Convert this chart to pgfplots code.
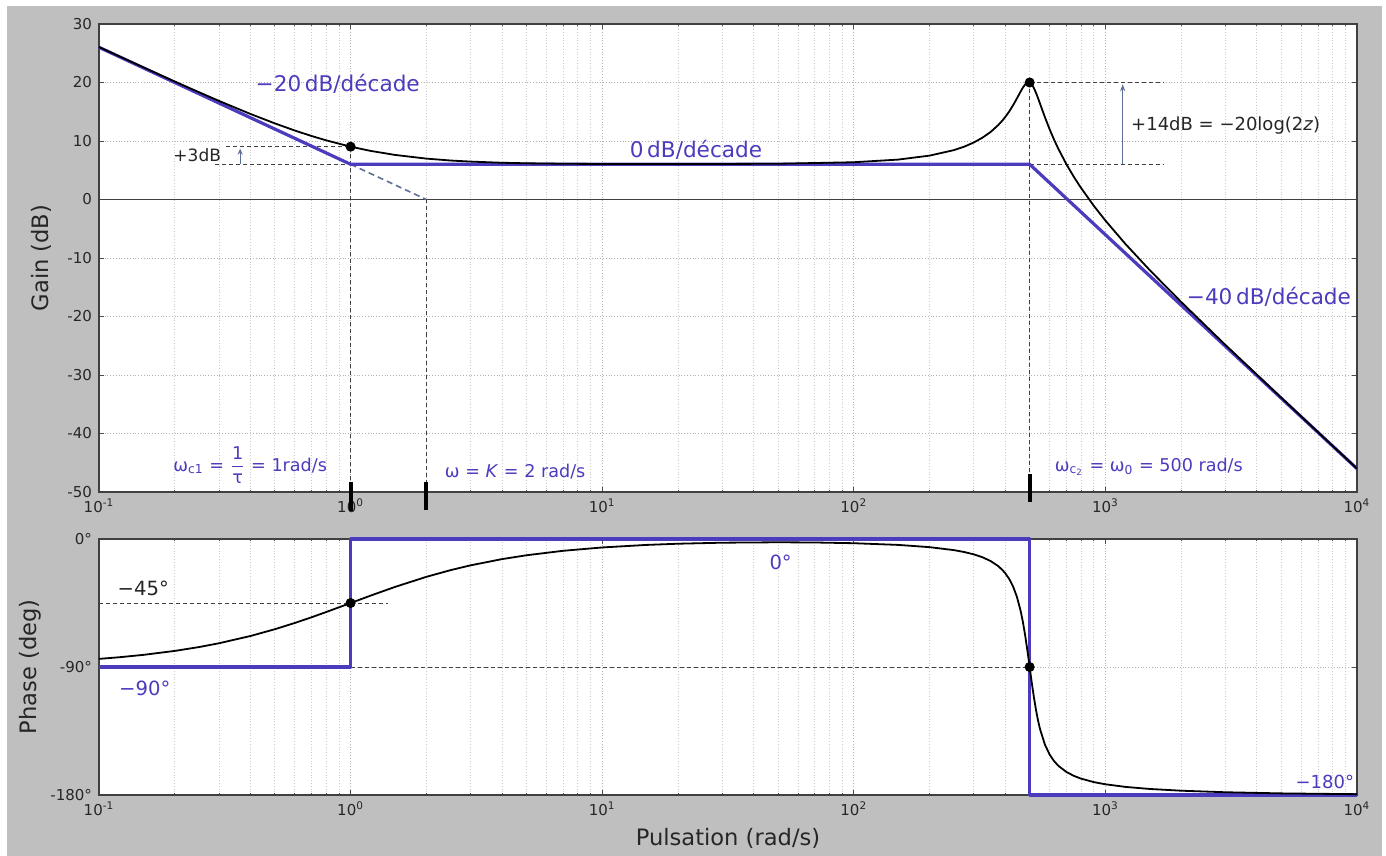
\documentclass[border=0pt]{standalone}
\usepackage{fontspec}
\setmainfont{DejaVu Sans}
\usepackage{pgfplots}
\pgfplotsset{compat=1.18}
\usetikzlibrary{arrows.meta}
\definecolor{bgray}{RGB}{191,191,191}
\definecolor{asym}{RGB}{75,60,190}
\definecolor{helper}{RGB}{95,110,150}
\begin{document}
\begin{tikzpicture}
\fill[white] (0pt,0pt) rectangle (693pt,-428pt);
\useasboundingbox (0pt,0pt) rectangle (693pt,-428pt);
\fill[bgray] (3.5pt,-3pt) rectangle (691pt,-428pt);
% ---------------- Gain ----------------
\begin{axis}[at={(49.5pt,-12pt)}, anchor=north west,
  scale only axis, width=629pt, height=234pt,
  xmode=log, xmin=0.1, xmax=10000,
  xtick={0.1,1,10,100,1000,10000},
  xticklabels={10\textsuperscript{-1},10\textsuperscript{0},10\textsuperscript{1},10\textsuperscript{2},10\textsuperscript{3},10\textsuperscript{4}},
  minor xtick={0.2,0.3,0.4,0.5,0.6,0.7,0.8,0.9,2,3,4,5,6,7,8,9,20,30,40,50,60,70,80,90,200,300,400,500,600,700,800,900,2000,3000,4000,5000,6000,7000,8000,9000},
  ymin=-50, ymax=30, ytick={-50,-40,-30,-20,-10,0,10,20,30},
  yticklabels={-50,-40,-30,-20,-10,0,10,20,30},
  grid=both,
  major grid style={densely dotted, black!30, line width=0.4pt},
  minor grid style={densely dotted, black!20, line width=0.4pt},
  tick align=inside, major tick length=2.5pt, minor tick length=1.2pt,
  tick style={black!70, line width=0.4pt},
  axis line style={black!75, line width=0.6pt},
  xticklabel style={font=\fontsize{7.5}{8}\selectfont, text=black!85},
  yticklabel style={font=\fontsize{7.5}{8}\selectfont, text=black!85},
  axis background/.style={fill=white},
  clip=false]
\addplot[black!75, line width=0.6pt] coordinates {(0.1,0)(10000,0)};
\addplot[black!75, line width=0.4pt, dash pattern=on 2pt off 1.5pt] coordinates {(1,9.03)(1,-50)};
\addplot[black!75, line width=0.4pt, dash pattern=on 2pt off 1.5pt] coordinates {(2,0)(2,-50)};
\addplot[black!75, line width=0.4pt, dash pattern=on 2pt off 1.5pt] coordinates {(500,20)(500,-50)};
\addplot[black!75, line width=0.4pt, dash pattern=on 2pt off 1.5pt] coordinates {(0.32,9.03)(1,9.03)};
\addplot[black!75, line width=0.4pt, dash pattern=on 2pt off 1.5pt] coordinates {(0.29,6.02)(1,6.02)};
\addplot[black!75, line width=0.4pt, dash pattern=on 2pt off 1.5pt] coordinates {(500,20)(1700,20)};
\addplot[black!75, line width=0.4pt, dash pattern=on 2pt off 1.5pt] coordinates {(500,6.02)(1700,6.02)};
\addplot[helper, line width=0.8pt, dash pattern=on 3pt off 2pt] coordinates {(1,6.02)(2,0)};
\addplot[helper, line width=0.5pt, -{Stealth[length=3pt,width=2.5pt]}] coordinates {(0.364,6.02)(0.364,8.7)};
\addplot[helper, line width=0.5pt, -{Stealth[length=3.5pt,width=2.5pt]}] coordinates {(1172,6.02)(1172,19.7)};
\addplot[asym, line width=1.6pt, line join=round] coordinates {(0.1,26.02)(1,6.02)(500,6.02)(10000,-46.02)};
\addplot[black, line width=0.9pt, line join=round] coordinates {
(0.1,26.06)(0.12,24.50)(0.15,22.60)(0.2,20.17)(0.25,18.33)(0.3,16.85)(0.4,14.62)(0.5,13.01)(0.6,11.79)(0.7,10.85)(0.8,10.11)(1,9.03)(1.2,8.31)(1.5,7.62)(2,6.99)(2.5,6.66)(3,6.48)(4,6.28)(5,6.19)(7,6.11)(10,6.07)(20,6.05)(50,6.11)(100,6.37)(150,6.82)(200,7.50)(250,8.44)(275,9.04)(300,9.75)(325,10.58)(350,11.55)(375,12.72)(390,13.52)(400,14.11)(415,15.07)(430,16.14)(445,17.28)(460,18.43)(470,19.13)(480,19.69)(490,20.00)(495,20.04)(500,20.00)(505,19.87)(510,19.66)(520,19.04)(530,18.22)(540,17.31)(550,16.36)(575,14.06)(600,12.02)(625,10.24)(650,8.67)(700,6.02)(750,3.84)(800,1.98)(900,-1.10)(1000,-3.60)(1200,-7.58)(1500,-12.07)(2000,-17.51)(3000,-24.87)(5000,-33.89)(7000,-39.78)(10000,-46.00)};
\addplot[only marks, mark=*, mark size=2.3pt, black] coordinates {(1,9.03)(500,20)};
\addplot[black, line width=2pt] coordinates {(1,-48.3)(1,-53.3)};
\addplot[black, line width=2pt] coordinates {(2,-48.3)(2,-53.0)};
\addplot[black, line width=2pt] coordinates {(500,-46.9)(500,-51.7)};
\node[asym, font=\fontsize{10.8}{12}\selectfont] at (axis cs:0.889,19.7) {−20\,dB/décade};
\node[asym, font=\fontsize{10.8}{12}\selectfont] at (axis cs:23.6,8.5) {0\,dB/décade};
\node[asym, font=\fontsize{10.8}{12}\selectfont] at (axis cs:4467,-16.7) {−40\,dB/décade};
\node[black!85, font=\fontsize{9}{10}\selectfont, anchor=west, inner sep=0pt] at (axis cs:1262,12.7) {+14dB = −20log(2\textit{z})};
\node[black!85, font=\fontsize{8.5}{10}\selectfont, anchor=west, inner sep=0pt] at (axis cs:0.197,7.6) {+3dB};
\node[asym, font=\fontsize{8.8}{10}\selectfont] at (axis cs:0.399,-45.4) {ω\textsubscript{c1} = $\displaystyle\frac{\mbox{1}}{\mbox{τ}}$ = 1rad/s};
\node[asym, font=\fontsize{8.8}{10}\selectfont] at (axis cs:4.51,-46.6) {ω = \textit{K} = 2 rad/s};
\node[asym, font=\fontsize{8.8}{10}\selectfont] at (axis cs:1489,-45.7) {ω\textsubscript{c\textsubscript{2}} = ω\textsubscript{0} = 500 rad/s};
\end{axis}
% ---------------- Phase ----------------
\begin{axis}[at={(49.5pt,-269.5pt)}, anchor=north west,
  scale only axis, width=629pt, height=128pt,
  xmode=log, xmin=0.1, xmax=10000,
  xtick={0.1,1,10,100,1000,10000},
  xticklabels={10\textsuperscript{-1},10\textsuperscript{0},10\textsuperscript{1},10\textsuperscript{2},10\textsuperscript{3},10\textsuperscript{4}},
  minor xtick={0.2,0.3,0.4,0.5,0.6,0.7,0.8,0.9,2,3,4,5,6,7,8,9,20,30,40,50,60,70,80,90,200,300,400,500,600,700,800,900,2000,3000,4000,5000,6000,7000,8000,9000},
  ymin=-180, ymax=0, ytick={-180,-90,0}, yticklabels={-180°,-90°,0°},
  grid=both,
  major grid style={densely dotted, black!30, line width=0.4pt},
  minor grid style={densely dotted, black!20, line width=0.4pt},
  tick align=inside, major tick length=2.5pt, minor tick length=1.2pt,
  tick style={black!70, line width=0.4pt},
  axis line style={black!75, line width=0.6pt},
  xticklabel style={font=\fontsize{7.5}{8}\selectfont, text=black!85},
  yticklabel style={font=\fontsize{7.5}{8}\selectfont, text=black!85},
  axis background/.style={fill=white},
  clip=false]
\addplot[black!75, line width=0.4pt, dash pattern=on 2pt off 1.5pt] coordinates {(0.1,-45)(1.41,-45)};
\addplot[black!75, line width=0.4pt, dash pattern=on 2pt off 1.5pt] coordinates {(1,-90)(500,-90)};
\addplot[asym, line width=1.6pt, line join=round] coordinates {(0.1,-90)(1,-90)(1,0)(500,0)(500,-180)(10000,-180)};
\addplot[black, line width=0.9pt, line join=round] coordinates {
(0.1,-84.29)(0.12,-83.16)(0.15,-81.47)(0.2,-78.69)(0.25,-75.96)(0.3,-73.30)(0.4,-68.20)(0.5,-63.43)(0.6,-59.04)(0.7,-55.01)(0.8,-51.34)(1,-45.02)(1.2,-39.83)(1.5,-33.72)(2,-26.61)(2.5,-21.86)(3,-18.50)(4,-14.13)(5,-11.43)(7,-8.29)(10,-5.94)(15,-4.16)(20,-3.32)(30,-2.60)(50,-2.30)(70,-2.45)(100,-2.96)(150,-4.15)(200,-5.73)(250,-7.82)(275,-9.17)(300,-10.81)(325,-12.87)(350,-15.51)(375,-19.07)(390,-21.87)(400,-24.10)(415,-28.2)(430,-33.58)(445,-40.7)(460,-50.26)(470,-58.36)(480,-67.91)(490,-78.70)(495,-84.37)(500,-90.11)(505,-95.79)(510,-101.31)(520,-111.53)(530,-120.35)(540,-127.72)(550,-133.78)(575,-144.6)(600,-151.49)(625,-156.13)(650,-159.44)(700,-163.82)(750,-166.57)(800,-168.48)(900,-170.93)(1000,-172.46)(1200,-174.29)(1500,-175.75)(2000,-176.98)(3000,-178.06)(5000,-178.86)(10000,-179.43)};
\addplot[only marks, mark=*, mark size=2.3pt, black] coordinates {(1,-45.02)(500,-90)};
\node[black!85, font=\fontsize{9.8}{11}\selectfont] at (axis cs:0.150,-34.5) {−45°};
\node[asym, font=\fontsize{9.8}{11}\selectfont] at (axis cs:0.152,-104.8) {−90°};
\node[asym, font=\fontsize{9.8}{11}\selectfont] at (axis cs:51.2,-16.2) {0°};
\node[asym, font=\fontsize{9}{10}\selectfont] at (axis cs:7450,-170.9) {−180°};
\end{axis}
\node[rotate=90, black!85, font=\fontsize{11.3}{12}\selectfont] at (20.5pt,-129pt) {Gain (dB)};
\node[rotate=90, black!85, font=\fontsize{11.3}{12}\selectfont] at (15pt,-333.5pt) {Phase (deg)};
\node[black!85, font=\fontsize{11.3}{12}\selectfont] at (364pt,-419pt) {Pulsation (rad/s)};
\end{tikzpicture}
\end{document}
